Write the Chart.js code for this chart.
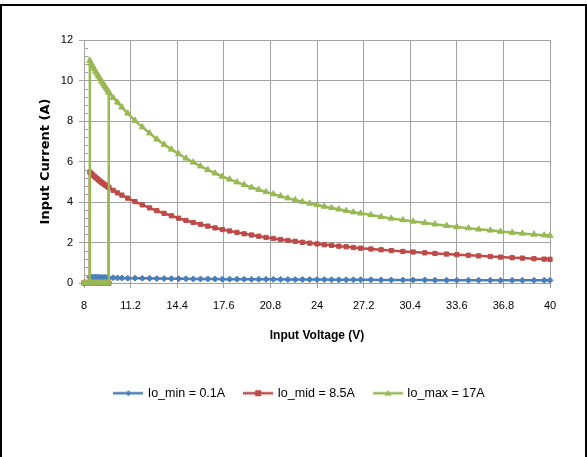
<!DOCTYPE html>
<html><head><meta charset="utf-8">
<script src="https://cdn.jsdelivr.net/npm/chart.js@4.4.1/dist/chart.umd.min.js"></script>
<style>html,body{margin:0;padding:0;background:#fff;}#wrap{position:relative;width:587px;height:457px;}</style>
</head><body><div id="wrap"><canvas id="c" width="587" height="457"></canvas></div>
<script>
// ---- data ----
const seriesNames = ['Io_min = 0.1A', 'Io_mid = 8.5A', 'Io_max = 17A'];
const xTicks = [8, 11.2, 14.4, 17.6, 20.8, 24, 27.2, 30.4, 33.6, 36.8, 40];
const xTickLabels = ['8', '11.2', '14.4', '17.6', '20.8', '24', '27.2', '30.4', '33.6', '36.8', '40'];
const yTicks = [0, 2, 4, 6, 8, 10, 12];
const yTickLabels = ['0', '2', '4', '6', '8', '10', '12'];

// rising sweep, converter still off
const vOff = [8.0, 8.1, 8.2, 8.3, 8.4, 8.5, 8.6, 8.7, 8.8, 8.9, 9.0, 9.1, 9.2, 9.3, 9.4, 9.5, 9.6, 9.7];
const iOff = [0, 0, 0, 0, 0, 0, 0, 0, 0, 0, 0, 0, 0, 0, 0, 0, 0, 0];

// rising sweep, converter on
const vUp = [9.7, 10.0, 10.3, 10.6, 11.0, 11.5, 12.0, 12.5, 13.0, 13.5, 14.0, 14.5, 15.0, 15.5, 16.0, 16.5, 17.0, 17.5, 18.0, 18.5, 19.0, 19.5, 20.0, 20.5, 21.0, 21.5, 22.0, 22.5, 23.0, 23.5, 24.0, 24.5, 25.0, 25.5, 26.0, 26.5, 27.0, 27.7, 28.4, 29.1, 29.9, 30.6, 31.4, 32.1, 32.9, 33.6, 34.4, 35.1, 35.9, 36.6, 37.4, 38.1, 38.9, 39.6, 40.0];
const iMinUp = [0.26, 0.26, 0.25, 0.25, 0.24, 0.24, 0.23, 0.23, 0.22, 0.22, 0.21, 0.21, 0.21, 0.2, 0.2, 0.2, 0.2, 0.19, 0.19, 0.19, 0.19, 0.18, 0.18, 0.18, 0.18, 0.18, 0.17, 0.17, 0.17, 0.17, 0.17, 0.17, 0.16, 0.16, 0.16, 0.16, 0.16, 0.16, 0.15, 0.15, 0.15, 0.15, 0.15, 0.14, 0.14, 0.14, 0.14, 0.14, 0.14, 0.13, 0.13, 0.13, 0.13, 0.13, 0.13];
const iMidUp = [4.72, 4.58, 4.45, 4.34, 4.19, 4.02, 3.86, 3.71, 3.57, 3.44, 3.32, 3.2, 3.09, 2.99, 2.9, 2.81, 2.72, 2.64, 2.57, 2.5, 2.43, 2.37, 2.31, 2.25, 2.2, 2.15, 2.1, 2.06, 2.01, 1.97, 1.93, 1.89, 1.86, 1.82, 1.79, 1.75, 1.72, 1.68, 1.64, 1.6, 1.56, 1.53, 1.49, 1.46, 1.43, 1.4, 1.37, 1.34, 1.31, 1.28, 1.25, 1.23, 1.2, 1.18, 1.17];
const iMaxUp = [9.42, 9.15, 8.92, 8.68, 8.38, 8.02, 7.7, 7.4, 7.1, 6.84, 6.6, 6.37, 6.16, 5.96, 5.77, 5.59, 5.42, 5.26, 5.12, 4.98, 4.85, 4.72, 4.61, 4.5, 4.39, 4.29, 4.19, 4.1, 4.01, 3.93, 3.86, 3.78, 3.71, 3.64, 3.57, 3.5, 3.44, 3.36, 3.27, 3.19, 3.11, 3.04, 2.97, 2.9, 2.83, 2.77, 2.71, 2.65, 2.6, 2.54, 2.49, 2.45, 2.4, 2.36, 2.34];

// falling sweep down to turn-off
const vDown = [9.7, 9.6, 9.5, 9.4, 9.3, 9.2, 9.1, 9.0, 8.9, 8.8, 8.7, 8.6, 8.5, 8.4, 8.4];
const iMinDown = [0.26, 0.26, 0.27, 0.27, 0.27, 0.27, 0.27, 0.28, 0.28, 0.28, 0.28, 0.28, 0.28, 0.28, 0];
const iMidDown = [4.72, 4.77, 4.82, 4.87, 4.92, 4.97, 5.03, 5.09, 5.15, 5.21, 5.27, 5.34, 5.41, 5.48, 0];
const iMaxDown = [9.42, 9.53, 9.64, 9.75, 9.86, 9.97, 10.09, 10.2, 10.32, 10.44, 10.57, 10.7, 10.84, 10.98, 0];

const colors = ['#4A7EBB', '#BE4B48', '#98B954'];
const styles = ['rectRot', 'rect', 'triangle'];
const FONT = "'Liberation Sans', Arial, sans-serif";

function pts(up, down) {
  const a = vOff.map((v, i) => ({x: v, y: iOff[i]}));
  const b = vUp.map((v, i) => ({x: v, y: up[i]}));
  const c = vDown.map((v, i) => ({x: v, y: down[i]}));
  return a.concat(b, [{x: null, y: null}], c);
}

function legendImg(color, style) {
  const c = document.createElement('canvas');
  c.width = 30; c.height = 10;
  const g = c.getContext('2d');
  g.strokeStyle = color; g.fillStyle = color; g.lineWidth = 2.5;
  g.beginPath(); g.moveTo(0, 5); g.lineTo(30, 5); g.stroke();
  g.beginPath();
  if (style === 'rectRot') { g.moveTo(15, 2); g.lineTo(18, 5); g.lineTo(15, 8); g.lineTo(12, 5); }
  else if (style === 'rect') { g.rect(12, 2, 6, 6); }
  else { g.moveTo(15, 1.5); g.lineTo(18.5, 7.5); g.lineTo(11.5, 7.5); }
  g.closePath(); g.fill();
  return c;
}

const seriesUp = [iMinUp, iMidUp, iMaxUp];
const seriesDown = [iMinDown, iMidDown, iMaxDown];
const datasets = seriesNames.map((name, k) => ({
  label: name,
  data: pts(seriesUp[k], seriesDown[k]),
  showLine: true,
  spanGaps: false,
  borderColor: colors[k],
  backgroundColor: colors[k],
  borderWidth: 2.5,
  pointStyle: styles[k],
  pointRadius: k === 2 ? 3.5 : 3,
  pointBorderWidth: 1,
  order: 3 - k,
  clip: false
}));

const gridCol = '#a3a3a3';
const frame = {
  id: 'frame',
  beforeDraw(chart) {
    const g = chart.ctx;
    g.save(); g.fillStyle = '#fff'; g.fillRect(0, 0, chart.width, chart.height);
    g.strokeStyle = '#000'; g.lineWidth = 2;
    g.beginPath(); g.moveTo(1, 470); g.lineTo(1, 5); g.lineTo(586, 5); g.lineTo(586, 470); g.stroke();
    g.restore();
  },
  afterDraw(chart) {
    const y = chart.scales.y, g = chart.ctx, x0 = chart.chartArea.left;
    g.save(); g.strokeStyle = gridCol; g.lineWidth = 1;
    for (let k = 1; k < 30; k++) {
      if (k % 5 === 0) continue;
      const py = Math.round(y.getPixelForValue(k * 0.4)) + 0.5;
      g.beginPath(); g.moveTo(x0, py); g.lineTo(x0 + 4, py); g.stroke();
    }
    g.restore();
  }
};

new Chart(document.getElementById('c'), {
  type: 'scatter',
  data: {datasets},
  plugins: [frame],
  options: {
    responsive: false, animation: false, devicePixelRatio: 1,
    layout: {padding: {top: 40, left: 50, right: 37, bottom: 47.5}},
    plugins: {
      tooltip: {enabled: false},
      legend: {
        position: 'bottom',
        labels: {
          usePointStyle: true, pointStyleWidth: 26, padding: 20, color: '#000',
          font: {family: FONT, size: 12.5},
          generateLabels: (chart) => seriesNames.map((n, i) => ({
            text: n, pointStyle: legendImg(colors[i], styles[i]), fillStyle: colors[i],
            strokeStyle: colors[i], lineWidth: 0, hidden: false, datasetIndex: i, fontColor: '#000'
          }))
        }
      }
    },
    scales: {
      x: {
        type: 'linear', position: 'bottom', min: 8, max: 40,
        afterBuildTicks: s => { s.ticks = xTicks.map(v => ({value: v})); },
        afterFit: s => { s.height = 84; },
        ticks: {callback: (v, i) => xTickLabels[i], color: '#000', padding: 11, maxRotation: 0, autoSkip: false,
                font: {family: FONT, size: 11}},
        grid: {color: gridCol, tickColor: gridCol, tickLength: 5},
        border: {color: gridCol},
        title: {display: true, text: 'Input Voltage (V)', color: '#000', padding: {top: 0, bottom: 24},
                font: {family: FONT, size: 12, weight: 'bold'}}
      },
      y: {
        min: 0, max: 12,
        afterBuildTicks: s => { s.ticks = yTicks.map(v => ({value: v})); },
        afterFit: s => { s.width = 34; },
        ticks: {callback: (v, i) => yTickLabels[i], color: '#000', padding: 6,
                font: {family: FONT, size: 11}},
        grid: {color: gridCol, tickColor: gridCol, tickLength: 5},
        border: {color: gridCol},
        title: {display: true, text: 'Input Current (A)', color: '#000', padding: {top: -12, bottom: 0},
                font: {family: 'DejaVu Sans', size: 13, weight: 'bold'}}
      }
    }
  }
});
</script></body></html>
